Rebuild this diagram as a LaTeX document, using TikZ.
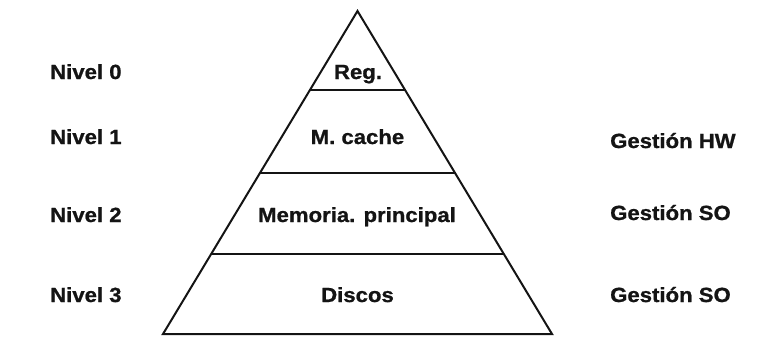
\documentclass[tikz,border=0pt]{standalone}
\usepackage{fontspec}
\setmainfont[FakeStretch=1.08,FakeBold=0.9]{Liberation Sans}
\usetikzlibrary{calc}
\begin{document}
\begin{tikzpicture}[x=1pt,y=-1pt,
  lbl/.style={inner sep=0pt,font=\bfseries\fontsize{20.5}{24}\selectfont,text=black!92},
  side/.style={lbl,anchor=base west},
  mid/.style={lbl,anchor=base},
  edge/.style={line width=2pt,black!92,line join=miter}]
\useasboundingbox (0,0) rectangle (763,360);
% pyramid outline
\coordinate (apex) at (357.5,11);
\coordinate (bl) at (163,334);
\coordinate (br) at (552,334);
\draw[edge] (bl) -- (apex) -- (br) -- cycle;
% level separators
\foreach \t/\n in {0.2446/a,0.5015/b,0.7523/c}{
  \coordinate (L\n) at ($(apex)!\t!(bl)$);
  \coordinate (R\n) at ($(apex)!\t!(br)$);
  \draw[edge] (L\n) -- (R\n);
}
% memory levels inside the pyramid
\node[mid] (reg) at (358,79) {Reg.};
\node[mid] (cache) at (357.5,144) {M. cache};
\node[mid] (mem) at (357,222) {Memoria. principal};
\node[mid] (disk) at (357.5,302) {Discos};
% level numbers
\node[side] (n0) at (50,79) {Nivel 0};
\node[side] (n1) at (50,144) {Nivel 1};
\node[side] (n2) at (50,222) {Nivel 2};
\node[side] (n3) at (50,302) {Nivel 3};
% management
\node[side] (g1) at (610,148) {Gestión HW};
\node[side] (g2) at (610,220) {Gestión SO};
\node[side] (g3) at (610,302) {Gestión SO};
\end{tikzpicture}
\end{document}
